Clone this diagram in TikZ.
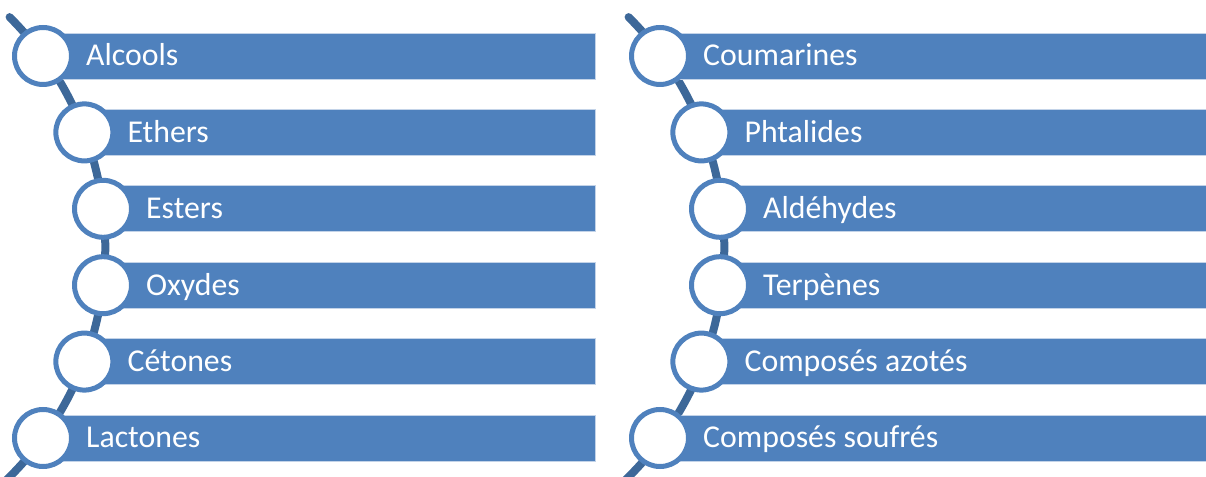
\documentclass[tikz,border=0pt]{standalone}
\usepackage{fontspec}
\setmainfont{Carlito}
\definecolor{barblue}{HTML}{4F81BD}
\definecolor{linkblue}{HTML}{3D6899}
\definecolor{baredge}{HTML}{C3D3E8}
\begin{document}
\begin{tikzpicture}[x=1pt,y=1pt,
  bar/.style={fill=barblue, draw=baredge, line width=0.8pt, inner sep=0pt, outer sep=0pt, minimum height=46pt, anchor=west},
  ring/.style={circle, draw=barblue, line width=5pt, fill=white, minimum size=57pt, inner sep=0pt},
  itemtext/.style={anchor=base west, text=white, inner sep=0pt, font=\fontsize{31.8}{38}\selectfont},
  link/.style={draw=linkblue, line width=8pt, line cap=round}]
\useasboundingbox (0,0) rectangle (1206,476);
% curved spines
\draw[link] (-218.7,229) ++(45.2:324) arc[start angle=45.2, end angle=-50, radius=324pt];
\draw[link] (400.3,229) ++(45.2:324) arc[start angle=45.2, end angle=-50, radius=324pt];
% left column
\foreach \n/\x/\y/\t in {1/43.0/420/Alcools, 2/84.35/343.6/Ethers, 3/103.0/267.2/Esters, 4/103.0/190.8/Oxydes, 5/84.35/114.4/Cétones, 6/43.0/38/Lactones}{
  \pgfmathsetmacro{\w}{595-\x}
  \node[bar, minimum width=\w pt] (lb\n) at (\x,\y) {};
  \node[ring] (lc\n) at (\x,\y) {};
  \node[itemtext] (lt\n) at (\x+43,\y-10) {\t};
}
% right column
\foreach \n/\x/\y/\t in {1/660.0/420/Coumarines, 2/701.35/343.6/Phtalides, 3/720.0/267.2/Aldéhydes, 4/720.0/190.8/Terpènes, 5/701.35/114.4/Composés azotés, 6/660.0/38/Composés soufrés}{
  \pgfmathsetmacro{\w}{1210-\x}
  \node[bar, minimum width=\w pt] (rb\n) at (\x,\y) {};
  \node[ring] (rc\n) at (\x,\y) {};
  \node[itemtext] (rt\n) at (\x+43,\y-10) {\t};
}
\end{tikzpicture}
\end{document}
